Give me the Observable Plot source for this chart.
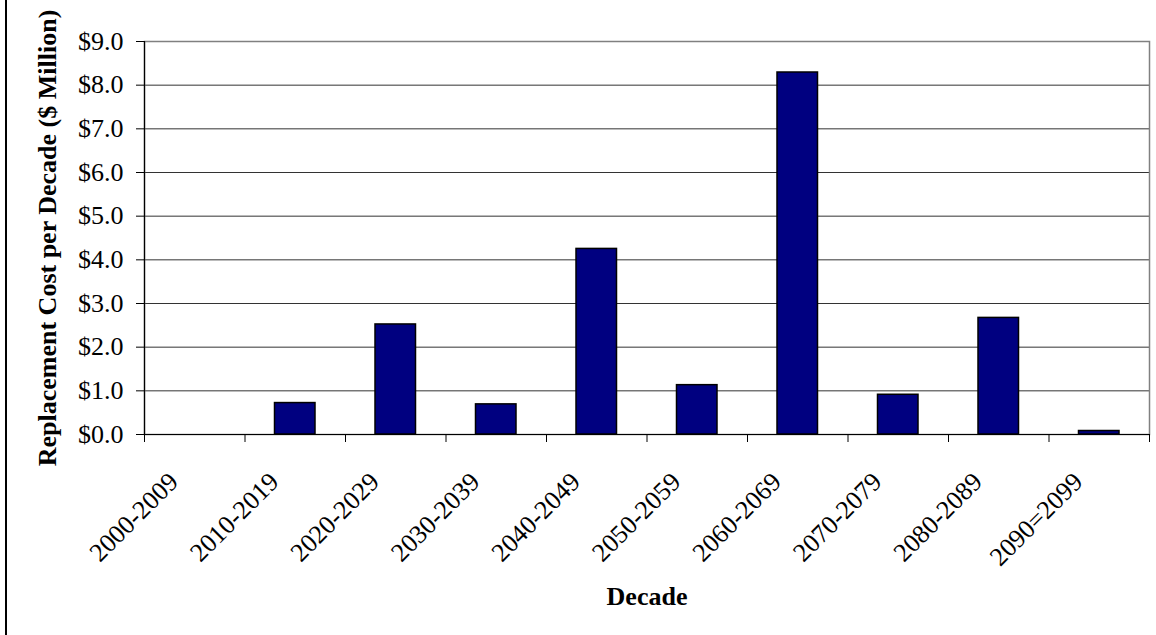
<!DOCTYPE html>
<html><head><meta charset="utf-8">
<script src="https://cdn.jsdelivr.net/npm/d3@7"></script>
<script src="https://cdn.jsdelivr.net/npm/@observablehq/plot@0.6"></script>
<style>
html,body{margin:0;padding:0;background:#fff;}
#wrap{position:relative;width:1156px;height:635px;overflow:hidden;}
#border{position:absolute;left:5px;top:0;width:2px;height:635px;background:#000;}
</style></head><body>
<div id="wrap"><div id="chart"></div><div id="border"></div></div>
<script>
const decades = ["2000-2009","2010-2019","2020-2029","2030-2039","2040-2049","2050-2059","2060-2069","2070-2079","2080-2089","2090=2099"];
const costs = [0, 0.72, 2.52, 0.69, 4.25, 1.13, 8.29, 0.91, 2.67, 0.08];
const yTicks = [0,1,2,3,4,5,6,7,8,9];
const yTitle = "Replacement Cost per Decade ($ Million)";
const xTitle = "Decade";

const data = decades.map((d,i)=>({decade:d, index:i, cost:costs[i]}));
const boundaries = d3.range(decades.length + 1);

const chart = Plot.plot({
  width:1156, height:635,
  marginLeft:144, marginRight:7, marginTop:41, marginBottom:201,
  style:{fontFamily:"'Liberation Serif','Times New Roman',serif", fontSize:"26px", color:"#000", background:"#fff", overflow:"visible"},
  x:{type:"linear", domain:[0, decades.length]},
  y:{domain:[0,9]},
  marks:[
    Plot.ruleY(yTicks.filter(d=>d>0 && d<9), {stroke:"#333", strokeWidth:1}),
    Plot.frame({stroke:"#808080", strokeWidth:1.5}),
    Plot.rect(data, {x1:"index", x2:d=>d.index+1, y1:0, y2:"cost", fill:"#000080", stroke:"#000", strokeWidth:1.5, insetLeft:30, insetRight:30}),
    Plot.axisY({ticks:yTicks, tickSize:8, tickPadding:13, tickFormat:d=>"$"+d.toFixed(1), label:null, stroke:"#000", fontSize:26}),
    Plot.ruleX([0], {stroke:"#000", strokeWidth:1.2}),
    Plot.ruleY([0], {stroke:"#000", strokeWidth:1.2}),
    Plot.axisX({ticks:boundaries, tickSize:8, tickFormat:()=>"", label:null, stroke:"#000"}),
    Plot.text(data, {x:d=>d.index+0.5, frameAnchor:"bottom", text:"decade", rotate:-45, textAnchor:"end", lineAnchor:"middle", dx:-21, dy:43, fontSize:26}),
    Plot.text([yTitle], {text:d=>d, frameAnchor:"left", textAnchor:"middle", lineAnchor:"middle", dx:-97, rotate:-90, fontWeight:"bold", fontSize:26}),
    Plot.text([xTitle], {text:d=>d, frameAnchor:"bottom", textAnchor:"middle", lineAnchor:"middle", dy:162, fontWeight:"bold", fontSize:26})
  ]
});
document.getElementById("chart").appendChild(chart);
</script>
</body></html>
